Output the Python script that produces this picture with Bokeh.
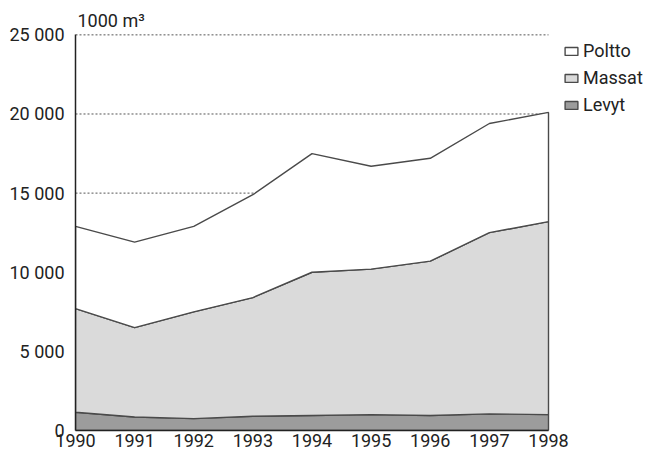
import numpy as np
from bokeh.plotting import figure
from bokeh.models import Legend, LegendItem, FixedTicker
from bokeh.embed import file_html
from bokeh.resources import INLINE

years = [1990, 1991, 1992, 1993, 1994, 1995, 1996, 1997, 1998]
levyt = [1150, 850, 750, 900, 950, 1000, 950, 1050, 1000]
massat = [6550, 5650, 6750, 7500, 9050, 9200, 9750, 11450, 12200]
poltto = [5200, 5400, 5400, 6500, 7500, 6500, 6500, 6900, 6900]
series_names = ["Levyt", "Massat", "Poltto"]
y_ticks = [0, 5000, 10000, 15000, 20000, 25000]
y_tick_labels = ["0", "5 000", "10 000", "15 000", "20 000", "25 000"]
unit_label = "1000 m³"

FONT = "Roboto"
FS = "18px"
fills = ["#9c9c9c", "#dadada", "#ffffff"]
edge = "#4a4a4a"
txt = "#222222"

# frame spans 75..645 px; years 1990..1998 occupy 75..548 px, legend sits to the right
x_end = years[0] + (645 - 75) / ((548 - 75) / (years[-1] - years[0]))

p = figure(width=655, height=455, output_backend="svg", toolbar_location=None,
           x_range=(years[0], x_end), y_range=(0, 25150),
           min_border_left=75, min_border_right=10, min_border_top=32,
           min_border_bottom=25)
p.outline_line_color = None
p.background_fill_color = "white"

# unit label as left-aligned title above the frame
p.title.text = unit_label
p.title.align = "left"
p.title.offset = 2
p.title.standoff = 3
p.title.text_font = FONT
p.title.text_font_size = FS
p.title.text_font_style = "normal"
p.title.text_color = txt

# dotted horizontal gridlines, only across the data span
p.segment(x0=[years[0]] * len(y_ticks), x1=[years[-1]] * len(y_ticks),
          y0=y_ticks, y1=y_ticks, line_color="#555555", line_dash="2 2",
          line_width=1)

x = np.array(years, dtype=float)
layers = [np.array(levyt, float), np.array(massat, float), np.array(poltto, float)]
bottom = np.zeros(len(years))
renderers = {}
for name, vals, col in zip(series_names, layers, fills):
    top = bottom + vals
    xs = list(x) + list(x[::-1])
    ys = list(top) + list(bottom[::-1])
    r = p.patch(xs, ys, fill_color=col, line_color=edge, line_width=1.4)
    renderers[name] = r
    bottom = top

# axes
p.xaxis.ticker = FixedTicker(ticks=years)
p.xaxis.bounds = (years[0], years[-1])
p.yaxis.ticker = FixedTicker(ticks=y_ticks)
p.yaxis.bounds = (0, 25000)
p.yaxis.major_label_overrides = {t: l for t, l in zip(y_ticks, y_tick_labels)}
for ax in (p.xaxis[0], p.yaxis[0]):
    ax.major_tick_out = 0
    ax.major_tick_in = 0
    ax.minor_tick_out = 0
    ax.minor_tick_in = 0
    ax.axis_line_color = txt
    ax.axis_line_width = 1.5
    ax.major_label_text_font = FONT
    ax.major_label_text_font_size = FS
    ax.major_label_text_color = txt
p.xaxis.major_label_standoff = 3
p.yaxis.major_label_standoff = 11

p.xgrid.grid_line_color = None
p.ygrid.grid_line_color = None

items = [LegendItem(label=n, renderers=[renderers[n]]) for n in ["Poltto", "Massat", "Levyt"]]
legend = Legend(items=items, location=(488, 315), orientation="vertical",
                glyph_width=16, glyph_height=10, label_standoff=4,
                label_text_font=FONT, label_text_font_size=FS,
                label_text_color=txt, label_height=21, spacing=6,
                padding=0, margin=0, border_line_color=None,
                background_fill_alpha=0)
p.add_layout(legend, "center")

open("out.html", "w").write(file_html(p, INLINE))
